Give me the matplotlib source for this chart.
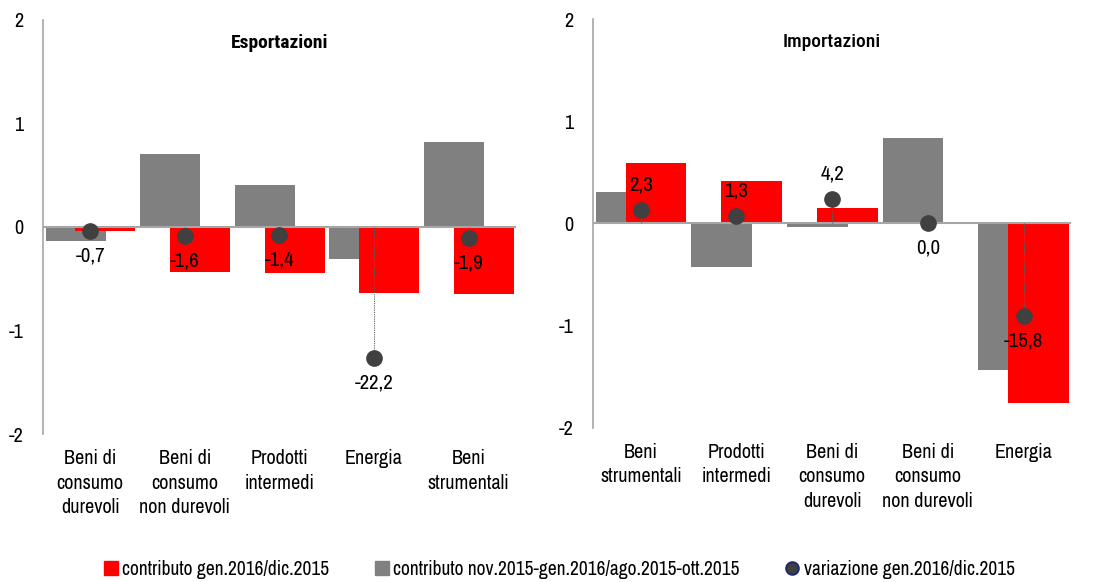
import matplotlib.pyplot as plt
from matplotlib.lines import Line2D

plt.rcParams['font.family'] = ['Archivo Narrow', 'Roboto Condensed', 'DejaVu Sans']
plt.rcParams['axes.unicode_minus'] = False

# Esportazioni
exp_categories = ['Beni di\nconsumo\ndurevoli', 'Beni di\nconsumo\nnon durevoli',
                  'Prodotti\nintermedi', 'Energia', 'Beni\nstrumentali']
exp_gray = [-0.14, 0.70, 0.41, -0.31, 0.82]
exp_red = [-0.04, -0.43, -0.44, -0.64, -0.65]
exp_var = [-0.7, -1.6, -1.4, -22.2, -1.9]

# Importazioni
imp_categories = ['Beni\nstrumentali', 'Prodotti\nintermedi', 'Beni di\nconsumo\ndurevoli',
                  'Beni di\nconsumo\nnon durevoli', 'Energia']
imp_gray = [0.31, -0.43, -0.03, 0.835, -1.43]
imp_red = [0.59, 0.42, 0.155, 0.0, -1.755]
imp_var = [2.3, 1.3, 4.2, 0.0, -15.8]

RED = '#FF0000'
GRAY = '#808080'
DOT = '#404040'
AXIS = '#A6A6A6'


def draw_panel(ax, title, categories, gray, red, var, weight):
    x = list(range(len(categories)))
    ax.bar([i - 0.155 for i in x], gray, width=0.635, color=GRAY, zorder=2)
    ax.bar([i + 0.16 for i in x], red, width=0.635, color=RED, zorder=3)
    ax.axhline(0, color=AXIS, lw=1.5, zorder=4)
    ax.set_xlim(-0.5, len(categories) - 0.5)
    ax.set_ylim(-2, 2)
    ax.set_yticks([-2, -1, 0, 1, 2])
    ax.set_xticks(x)
    ax.set_xticklabels(categories, fontsize=14.5, linespacing=1.35)
    ax.tick_params(axis='x', length=0, pad=11)
    ax.tick_params(axis='y', length=0, pad=14, labelsize=14.5)
    for s in ['top', 'right', 'bottom']:
        ax.spines[s].set_visible(False)
    ax.spines['left'].set_color(AXIS)
    ax.spines['left'].set_linewidth(1.2)
    ax.text(0.5, 0.945, title, transform=ax.transAxes, ha='center', va='center',
            fontsize=14, fontweight=weight, family=['Roboto Condensed', 'DejaVu Sans'])

    # variazione on hidden secondary scale
    ax2 = ax.twinx()
    ax2.set_ylim(-35, 35)
    ax2.axis('off')
    ax2.vlines(x, 0, var, colors='#606060', lw=0.8, linestyles=(0, (1, 1)), zorder=5)
    ax2.plot(x, var, 'o', color=DOT, ms=11, zorder=6)
    for xi, v in zip(x, var):
        off = 18 if v > 0 else -18
        ax2.annotate(f'{v:.1f}'.replace('.', ','), (xi, v), xytext=(0, off),
                     textcoords='offset points', ha='center', va='center', fontsize=15)


fig = plt.figure(figsize=(11, 5.82), dpi=100)
ax_l = fig.add_axes([0.039, 0.254, 0.430, 0.712])
ax_r = fig.add_axes([0.539, 0.265, 0.435, 0.702])

draw_panel(ax_l, 'Esportazioni', exp_categories, exp_gray, exp_red, exp_var, 'bold')
draw_panel(ax_r, 'Importazioni', imp_categories, imp_gray, imp_red, imp_var, 'medium')

handles = [
    Line2D([], [], marker='s', ls='none', color=RED, ms=10),
    Line2D([], [], marker='s', ls='none', color=GRAY, ms=10),
    Line2D([], [], marker='o', ls='none', mfc=DOT, mec='#1F2A6B', mew=1.5, ms=9),
]
labels = ['contributo gen.2016/dic.2015',
          'contributo nov.2015-gen.2016/ago.2015-ott.2015',
          'variazione gen.2016/dic.2015']
fig.legend(handles, labels, loc='center', bbox_to_anchor=(0.509, 0.021), ncol=3,
           frameon=False, fontsize=14, handlelength=0.6, handletextpad=0.3,
           columnspacing=2.4)

fig.savefig('out.png', dpi=100)
